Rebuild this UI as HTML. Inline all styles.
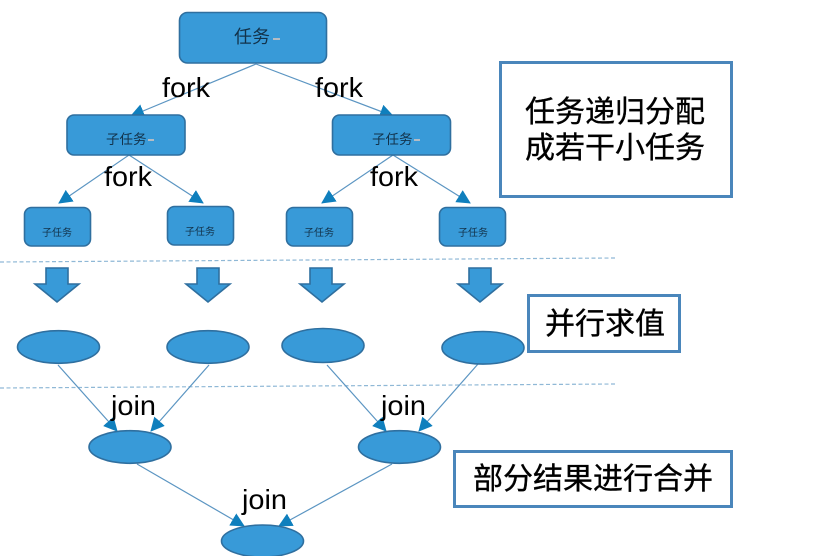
<!DOCTYPE html>
<html>
<head>
<meta charset="utf-8">
<style>
html,body{margin:0;padding:0;background:#fff;width:822px;height:560px;overflow:hidden}
svg{display:block}
text{font-family:"Liberation Sans","Noto Sans CJK SC",sans-serif;fill:#000}
.s{fill:#389ad8;stroke:#2f6f9f;stroke-width:1.6}
.b{fill:#fff;stroke:#4a86bb;stroke-width:3}
.c{stroke:#5b95c2;stroke-width:1.2;fill:none;marker-end:url(#a)}
.d{stroke:#8fb8d6;stroke-width:1.2;stroke-dasharray:4 2.5;fill:none}
.k{stroke:none;fill:#b5bcc4}
.t{stroke:#000;stroke-width:.35}
</style>
</head>
<body>
<svg width="822" height="560" viewBox="0 0 822 560" xmlns="http://www.w3.org/2000/svg">
<defs>
<marker id="a" markerUnits="userSpaceOnUse" markerWidth="16" markerHeight="16" refX="13" refY="7" orient="auto">
<path d="M0 0L14 7L0 14Z" fill="#0f7fbd"/>
</marker>
<clipPath id="clip"><rect x="0" y="0" width="822" height="556"/></clipPath>
</defs>

<line class="d" x1="0" y1="262" x2="615" y2="258"/>
<line class="d" x1="0" y1="388" x2="615" y2="384"/>

<line class="c" x1="256" y1="64" x2="131" y2="116"/>
<line class="c" x1="256" y1="64" x2="393" y2="116"/>
<line class="c" x1="129" y1="155" x2="59" y2="203"/>
<line class="c" x1="129" y1="155" x2="203" y2="203"/>
<line class="c" x1="393" y1="155" x2="322" y2="203"/>
<line class="c" x1="393" y1="155" x2="470" y2="203"/>
<line class="c" x1="58" y1="365" x2="117" y2="431"/>
<line class="c" x1="209" y1="365" x2="151" y2="431"/>
<line class="c" x1="327" y1="365" x2="386" y2="431"/>
<line class="c" x1="478" y1="364" x2="419" y2="431"/>
<line class="c" x1="137" y1="464" x2="244" y2="526"/>
<line class="c" x1="392" y1="464" x2="279" y2="526"/>

<rect class="s" x="179.5" y="12.5" width="147" height="50.5" rx="8"/>
<rect class="s" x="67" y="115" width="118" height="40" rx="7"/>
<rect class="s" x="332.5" y="115" width="118" height="40" rx="7"/>
<rect class="s" x="24.5" y="207.5" width="66" height="38.5" rx="7"/>
<rect class="s" x="167.5" y="206.5" width="66" height="38.5" rx="7"/>
<rect class="s" x="286.5" y="207.5" width="66" height="38.5" rx="7"/>
<rect class="s" x="439.5" y="207.5" width="66" height="38.5" rx="7"/>

<path class="s" d="M46 268H68V284H79L57 302L35 284H46Z"/>
<path class="s" d="M197 268H219V284H230L208 302L186 284H197Z"/>
<path class="s" d="M310 268H332V284H344L322 302L300 284H310Z"/>
<path class="s" d="M469 268H491V284H502L480 302L458 284H469Z"/>

<ellipse class="s" cx="58.5" cy="347" rx="41" ry="16.3"/>
<ellipse class="s" cx="208" cy="347" rx="41" ry="16.3"/>
<ellipse class="s" cx="323" cy="345.5" rx="41" ry="17"/>
<ellipse class="s" cx="483" cy="347.8" rx="41" ry="16.3"/>
<ellipse class="s" cx="130" cy="447" rx="41" ry="16.3"/>
<ellipse class="s" cx="399.5" cy="447" rx="41" ry="16.3"/>
<g clip-path="url(#clip)"><ellipse class="s" cx="262.5" cy="541" rx="41" ry="16"/></g>

<rect class="b" x="500.5" y="62.5" width="231" height="134"/>
<rect class="b" x="528.5" y="295.5" width="151" height="56"/>
<rect class="b" x="454.5" y="451.5" width="277" height="55"/>

<text x="234" y="43" font-size="18" style="fill:#12324a">任务</text>
<rect class="k" x="273" y="38" width="7" height="2"/>
<text x="106" y="144" font-size="13.5" style="fill:#12324a">子任务</text>
<rect class="k" x="148" y="139" width="6" height="2"/>
<text x="372" y="144" font-size="13.5" style="fill:#12324a">子任务</text>
<rect class="k" x="414" y="139" width="6" height="2"/>
<text x="42" y="236" font-size="10" style="fill:#12324a">子任务</text>
<text x="185" y="235" font-size="10" style="fill:#12324a">子任务</text>
<text x="304" y="236" font-size="10" style="fill:#12324a">子任务</text>
<text x="458" y="236" font-size="10" style="fill:#12324a">子任务</text>

<text x="162" y="97" font-size="28" textLength="48" lengthAdjust="spacingAndGlyphs">fork</text>
<text x="315" y="97" font-size="28" textLength="48" lengthAdjust="spacingAndGlyphs">fork</text>
<text x="104" y="186" font-size="28" textLength="48" lengthAdjust="spacingAndGlyphs">fork</text>
<text x="370" y="186" font-size="28" textLength="48" lengthAdjust="spacingAndGlyphs">fork</text>
<text x="111" y="415" font-size="28" textLength="45" lengthAdjust="spacingAndGlyphs">join</text>
<text x="381" y="415" font-size="28" textLength="45" lengthAdjust="spacingAndGlyphs">join</text>
<text x="242" y="509" font-size="28" textLength="45" lengthAdjust="spacingAndGlyphs">join</text>

<text class="t" x="525" y="122" font-size="30">任务递归分配</text>
<text class="t" x="525" y="158" font-size="30">成若干小任务</text>
<text class="t" x="545" y="334" font-size="30">并行求值</text>
<text class="t" x="473" y="489" font-size="30">部分结果进行合并</text>
</svg>
</body>
</html>
